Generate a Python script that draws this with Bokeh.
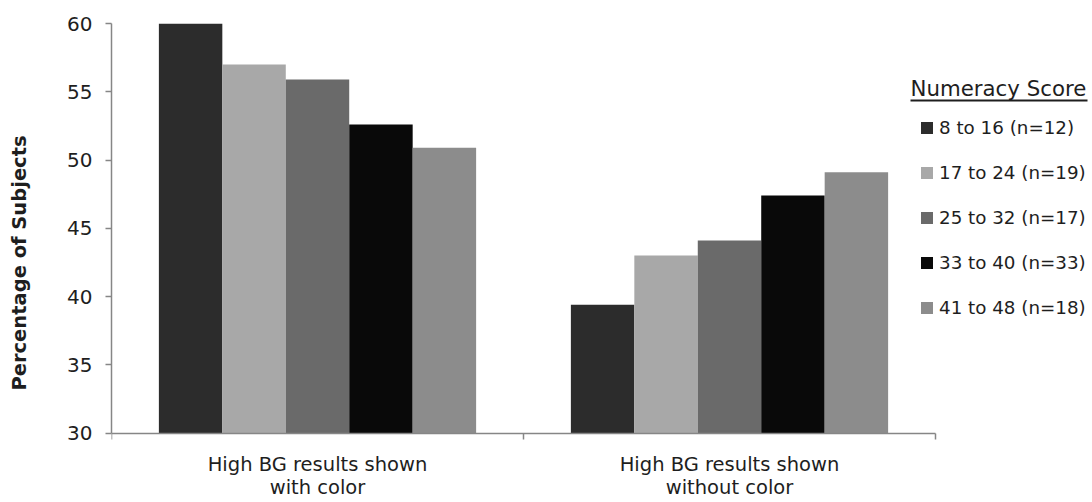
from bokeh.plotting import figure
from bokeh.models import (Range1d, FixedTicker, Legend, LegendItem, Label,
                          BoxAnnotation, ColumnDataSource)
from bokeh.transform import dodge
from bokeh.embed import file_html
from bokeh.resources import INLINE

# ---- data ----
categories = ["High BG results shown\nwith color", "High BG results shown\nwithout color"]
series = ["8 to 16 (n=12)", "17 to 24 (n=19)", "25 to 32 (n=17)", "33 to 40 (n=33)", "41 to 48 (n=18)"]
v_8_16 = [60.0, 39.4]
v_17_24 = [57.0, 43.0]
v_25_32 = [55.9, 44.1]
v_33_40 = [52.6, 47.4]
v_41_48 = [50.9, 49.1]
y_ticks = [30, 35, 40, 45, 50, 55, 60]
legend_title = "Numeracy Score"
y_title = "Percentage of Subjects"

colors = ["#2c2c2c", "#a8a8a8", "#6a6a6a", "#090909", "#8c8c8c"]
FONT = "DejaVu Sans"
TXT = "#1e1e1e"
AX = "#868686"

# layout (pixels)
W, H = 1092, 502
LEFT, TOP = 111, 23
AXIS_PX = 824            # width of the category axis
AXIS_Y_PX = 409.5        # height of the value axis (30..60)
FRAME_W = W - LEFT       # frame runs to the right edge so the legend is not clipped
FRAME_H = H - TOP        # frame runs to the bottom edge; x axis is fixed at y=30

values = [v_8_16, v_17_24, v_25_32, v_33_40, v_41_48]
ncat = len(categories)
x_pos = [i + 0.5 for i in range(ncat)]
data = {"x": x_pos}
keys = []
for i, v in enumerate(values):
    k = "s%d" % i
    data[k] = v
    keys.append(k)
src = ColumnDataSource(data)

y0, y1 = y_ticks[0], y_ticks[-1]
y_start = y1 - (y1 - y0) * FRAME_H / AXIS_Y_PX

p = figure(width=W, height=H,
           x_range=Range1d(0, ncat * FRAME_W / AXIS_PX),
           y_range=Range1d(y_start, y1),
           output_backend="svg", toolbar_location=None,
           min_border_left=LEFT, min_border_right=0,
           min_border_top=TOP, min_border_bottom=0)
p.outline_line_color = None
p.xgrid.visible = False
p.ygrid.visible = False
p.background_fill_color = "white"

bw = 0.154
renderers = []
n = len(keys)
for i, k in enumerate(keys):
    off = (i - (n - 1) / 2) * bw
    r = p.vbar(x=dodge("x", off, range=p.x_range), top=k, bottom=y0, width=bw,
               source=src, fill_color=colors[i], line_color=None)
    renderers.append(r)

# y axis
ya = p.yaxis[0]
ya.bounds = (y0, y1)
ya.ticker = FixedTicker(ticks=y_ticks)
ya.major_tick_out = 6
ya.major_tick_in = 0
ya.minor_tick_out = 0
ya.minor_tick_in = 0
ya.axis_line_color = AX
ya.axis_line_width = 1.5
ya.major_tick_line_color = AX
ya.major_tick_line_width = 1.5
ya.major_label_standoff = 13
ya.major_label_text_font = FONT
ya.major_label_text_font_size = "20px"
ya.major_label_text_color = TXT
ya.axis_label = y_title
ya.axis_label_text_font = FONT
ya.axis_label_text_font_style = "bold"
ya.axis_label_text_font_size = "19.5px"
ya.axis_label_text_color = TXT
ya.axis_label_standoff = 33

# x axis
xa = p.xaxis[0]
xa.fixed_location = y0
xa.bounds = (0, ncat)
xa.ticker = FixedTicker(ticks=x_pos, minor_ticks=list(range(ncat + 1)))
xa.major_label_overrides = {x: c for x, c in zip(x_pos, categories)}
xa.major_tick_out = 0
xa.major_tick_in = 0
xa.minor_tick_out = 6
xa.minor_tick_in = 0
xa.minor_tick_line_color = AX
xa.minor_tick_line_width = 1.5
xa.axis_line_color = AX
xa.axis_line_width = 1.5
xa.major_label_standoff = 14
xa.major_label_text_font = FONT
xa.major_label_text_font_size = "19.5px"
xa.major_label_text_color = TXT
xa.major_label_text_line_height = 1.0

# legend (positions in px from the frame's bottom-left)
legend = Legend(items=[LegendItem(label=s, renderers=[r]) for s, r in zip(series, renderers)],
                location=(808, 184), padding=0, margin=0,
                border_line_color=None, background_fill_alpha=0,
                glyph_width=15, glyph_height=15, label_height=20, spacing=24,
                label_standoff=5, label_text_font=FONT, label_text_font_size="18.3px",
                label_text_color=TXT)
p.add_layout(legend)

title = Label(x=799, y=413.7, x_units="screen", y_units="screen", text=legend_title,
              text_font=FONT, text_font_size="21.3px", text_color=TXT,
              text_baseline="middle", text_align="left")
p.add_layout(title)
underline = BoxAnnotation(left=799, right=976, bottom=401, top=403,
                          left_units="screen", right_units="screen",
                          bottom_units="screen", top_units="screen",
                          fill_color=TXT, fill_alpha=1, line_color=None)
p.add_layout(underline)

open("out.html", "w").write(file_html(p, INLINE))
